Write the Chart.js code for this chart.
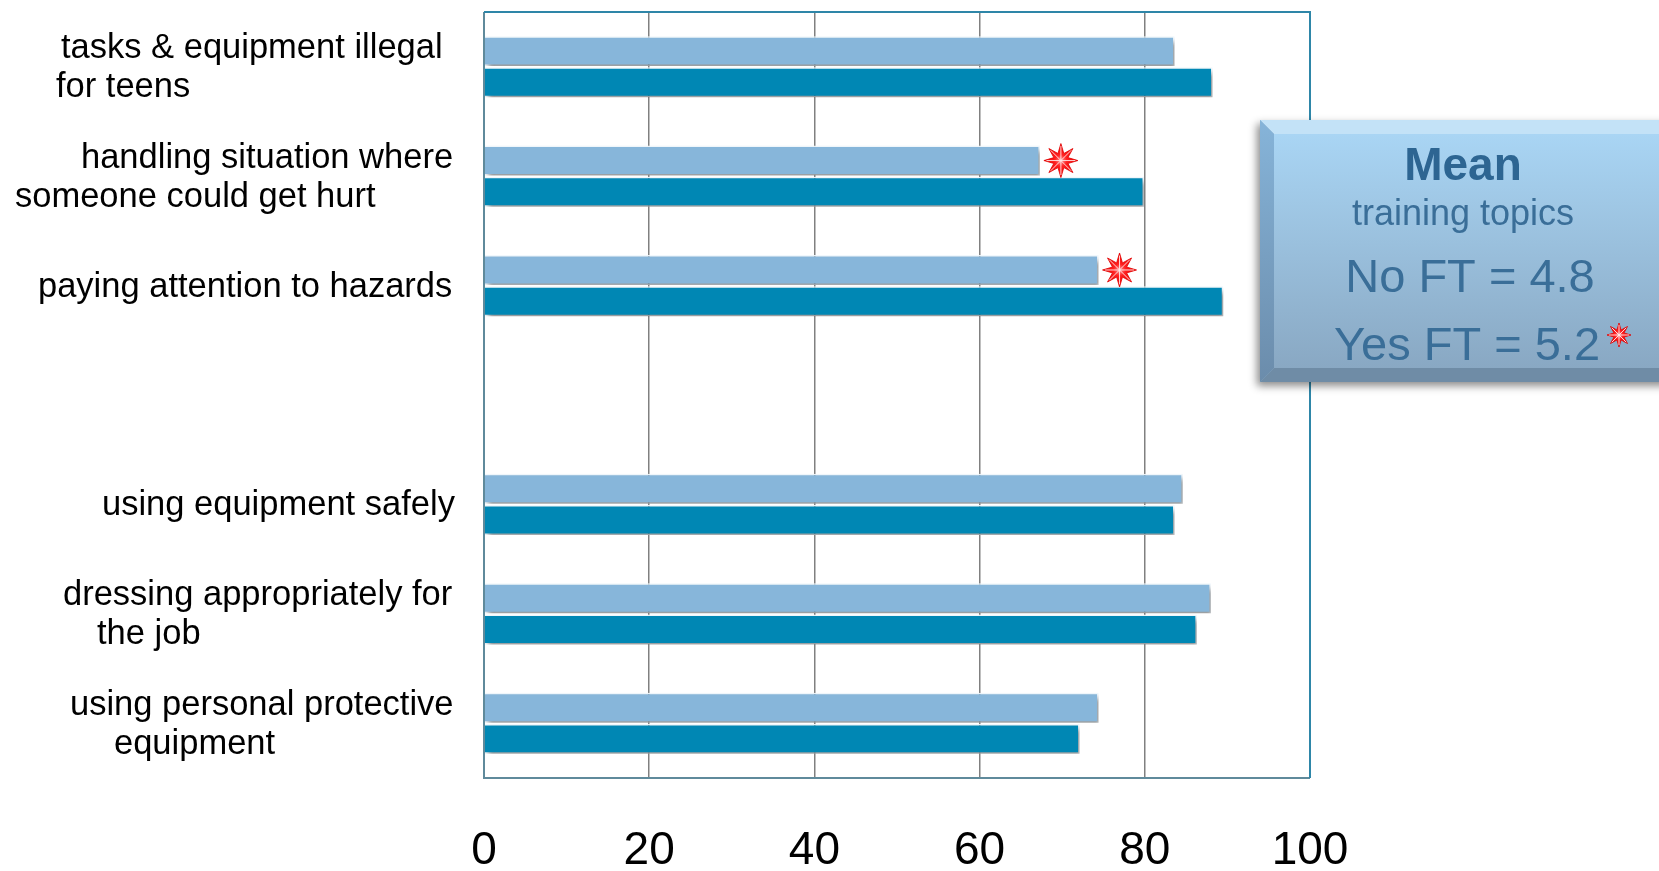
<!DOCTYPE html>
<html>
<head>
<meta charset="utf-8">
<script src="https://cdn.jsdelivr.net/npm/chart.js@4.4.1/dist/chart.umd.min.js"></script>
<style>
html, body { margin: 0; padding: 0; background: #fff; }
#wrap { width: 1659px; height: 871px; position: relative; }
</style>
</head>
<body>
<div id="wrap"><canvas id="chart"></canvas></div>
<script>
// data (one empty slot separates the two groups)
const categories = [
    ['tasks & equipment illegal', 'for teens'],
    ['handling situation where', 'someone could get hurt'],
    ['paying attention to hazards'],
    [''],
    ['using equipment safely'],
    ['dressing appropriately for', 'the job'],
    ['using personal protective', 'equipment']
];
const noFT  = [83.6, 67.3, 74.4, null, 84.6, 88.0, 74.4];
const yesFT = [88.2, 79.9, 89.5, null, 83.6, 86.3, 72.1];
const significant = [false, true, true, false, false, false, false];
const xTicks = [0, 20, 40, 60, 80, 100];
const meanLines = ['Mean', 'training topics', 'No FT = 4.8', 'Yes FT = 5.2'];

// where each label line starts (PowerPoint text boxes, not aligned evenly)
const labelLineX = [[61, 56], [81, 15], [38], [], [102], [63, 97], [70, 114]];

function drawStar(ctx, cx, cy, r) {
    ctx.save();
    const tips = [], valleys = [];
    for (let k = 0; k < 8; k++) {
        let a = -Math.PI / 2 + k * Math.PI / 4;
        tips.push([cx + Math.cos(a) * r, cy + Math.sin(a) * r]);
        let b = a + Math.PI / 8;
        valleys.push([cx + Math.cos(b) * r * 0.45, cy + Math.sin(b) * r * 0.45]);
    }
    ctx.beginPath();
    for (let k = 0; k < 8; k++) {
        if (k === 0) ctx.moveTo(tips[k][0], tips[k][1]); else ctx.lineTo(tips[k][0], tips[k][1]);
        ctx.lineTo(valleys[k][0], valleys[k][1]);
    }
    ctx.closePath();
    let g = ctx.createRadialGradient(cx, cy, 0, cx, cy, r);
    g.addColorStop(0, '#ff9a9a');
    g.addColorStop(0.35, '#ff2020');
    g.addColorStop(1, '#f00000');
    ctx.fillStyle = g;
    ctx.fill();
    ctx.strokeStyle = '#e00000';
    ctx.lineWidth = 0.8;
    ctx.stroke();
    // ridges on each point
    ctx.strokeStyle = 'rgba(255,235,235,0.9)';
    ctx.lineWidth = 1;
    for (let k = 0; k < 8; k++) {
        ctx.beginPath();
        ctx.moveTo(cx, cy);
        ctx.lineTo(cx + (tips[k][0] - cx) * 0.85, cy + (tips[k][1] - cy) * 0.85);
        ctx.stroke();
    }
    ctx.restore();
}

const barShadow = {
    id: 'barShadow',
    beforeDatasetsDraw(chart) {
        const ctx = chart.ctx;
        ctx.save();
        ctx.shadowColor = 'rgba(0,0,0,0.42)';
        ctx.shadowBlur = 5;
        ctx.shadowOffsetX = 3;
        ctx.shadowOffsetY = 4;
    },
    afterDatasetsDraw(chart) {
        chart.ctx.restore();
    }
};

const sigStars = {
    id: 'sigStars',
    afterDatasetsDraw(chart) {
        const meta = chart.getDatasetMeta(0);
        significant.forEach((s, i) => {
            if (!s) return;
            const bar = meta.data[i];
            drawStar(chart.ctx, bar.x + 21, bar.y, 17);
        });
    }
};

const frameAndLabels = {
    id: 'frameAndLabels',
    afterDraw(chart) {
        const ctx = chart.ctx;
        const a = chart.chartArea;
        ctx.save();
        ctx.lineWidth = 2;
        ctx.strokeStyle = '#5f8a9b';
        ctx.beginPath();
        ctx.moveTo(a.left, a.top);
        ctx.lineTo(a.left, a.bottom);
        ctx.lineTo(a.right, a.bottom);
        ctx.stroke();
        ctx.strokeStyle = '#2e86a8';
        ctx.beginPath();
        ctx.moveTo(a.left, a.top);
        ctx.lineTo(a.right, a.top);
        ctx.lineTo(a.right, a.bottom);
        ctx.stroke();

        // category labels
        const yScale = chart.scales.y;
        ctx.fillStyle = '#000';
        ctx.font = '34.5px "Liberation Sans", Arial, sans-serif';
        ctx.textAlign = 'left';
        ctx.textBaseline = 'alphabetic';
        categories.forEach((lines, i) => {
            const cy = yScale.getPixelForValue(i);
            lines.forEach((t, j) => {
                const y = cy + 11 + (j - (lines.length - 1) / 2) * 39;
                ctx.fillText(t, labelLineX[i][j], y);
            });
        });
        ctx.restore();
    }
};

const meanBox = {
    id: 'meanBox',
    afterDraw(chart) {
        const ctx = chart.ctx;
        const x = 1260, y = 120, w = 420, h = 262, b = 14;
        ctx.save();
        ctx.shadowColor = 'rgba(0,0,0,0.45)';
        ctx.shadowBlur = 8;
        ctx.shadowOffsetX = -3;
        ctx.shadowOffsetY = 4;
        ctx.fillStyle = '#8fb2cf';
        ctx.fillRect(x, y, w, h);
        ctx.restore();

        ctx.save();
        let face = ctx.createLinearGradient(0, y + b, 0, y + h - b);
        face.addColorStop(0, '#a9d5f4');
        face.addColorStop(1, '#89a8c3');
        ctx.fillStyle = face;
        ctx.fillRect(x + b, y + b, w - 2 * b, h - 2 * b);

        ctx.fillStyle = '#c3e2f7';
        ctx.beginPath();
        ctx.moveTo(x, y); ctx.lineTo(x + w, y); ctx.lineTo(x + w - b, y + b); ctx.lineTo(x + b, y + b);
        ctx.closePath(); ctx.fill();

        let lg = ctx.createLinearGradient(0, y, 0, y + h);
        lg.addColorStop(0, '#86b4d9');
        lg.addColorStop(1, '#6b8cab');
        ctx.fillStyle = lg;
        ctx.beginPath();
        ctx.moveTo(x, y); ctx.lineTo(x + b, y + b); ctx.lineTo(x + b, y + h - b); ctx.lineTo(x, y + h);
        ctx.closePath(); ctx.fill();

        ctx.fillStyle = '#6f8ca6';
        ctx.beginPath();
        ctx.moveTo(x, y + h); ctx.lineTo(x + b, y + h - b); ctx.lineTo(x + w - b, y + h - b); ctx.lineTo(x + w, y + h);
        ctx.closePath(); ctx.fill();

        ctx.textAlign = 'center';
        ctx.textBaseline = 'alphabetic';
        ctx.fillStyle = '#2d6592';
        ctx.font = 'bold 46px "Liberation Sans", Arial, sans-serif';
        ctx.fillText(meanLines[0], 1463, 180);
        ctx.fillStyle = '#3a6e98';
        ctx.font = '36px "Liberation Sans", Arial, sans-serif';
        ctx.fillText(meanLines[1], 1463, 225);
        ctx.font = '47px "Liberation Sans", Arial, sans-serif';
        ctx.fillText(meanLines[2], 1470, 292);
        ctx.fillText(meanLines[3], 1467, 360);
        drawStar(ctx, 1619, 335, 12);
        ctx.restore();
    }
};

new Chart(document.getElementById('chart'), {
    type: 'bar',
    data: {
        labels: categories,
        datasets: [
            {
                label: 'No FT',
                data: noFT,
                backgroundColor: '#87b6da',
                borderColor: 'rgba(240,248,253,0.95)',
                borderWidth: 1.5,
                categoryPercentage: 0.57,
                barPercentage: 0.96
            },
            {
                label: 'Yes FT',
                data: yesFT,
                backgroundColor: '#0087b4',
                borderColor: 'rgba(240,248,253,0.95)',
                borderWidth: 1.5,
                categoryPercentage: 0.57,
                barPercentage: 0.96
            }
        ]
    },
    options: {
        indexAxis: 'y',
        responsive: true,
        maintainAspectRatio: false,
        animation: false,
        layout: { padding: { left: 484, right: 349, top: 12, bottom: 0 } },
        scales: {
            x: {
                min: xTicks[0],
                max: xTicks[xTicks.length - 1],
                afterBuildTicks: scale => { scale.ticks = xTicks.map(v => ({ value: v })); },
                afterFit: scale => { scale.height = 93; },
                ticks: {
                    color: '#000',
                    padding: 46,
                    font: { size: 46, family: '"Liberation Sans", Arial, sans-serif' }
                },
                grid: {
                    drawTicks: false,
                    lineWidth: 1.5,
                    color: c => (c.tick && (c.tick.value === 0 || c.tick.value === 100)) ? 'rgba(0,0,0,0)' : '#808080'
                },
                border: { display: false }
            },
            y: { display: false }
        },
        plugins: {
            legend: { display: false },
            tooltip: { enabled: false }
        }
    },
    plugins: [barShadow, sigStars, frameAndLabels, meanBox]
});
</script>
</body>
</html>
